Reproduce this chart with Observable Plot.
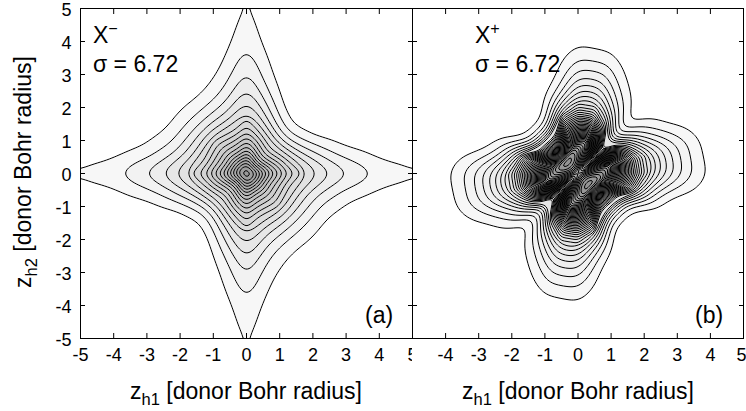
<!DOCTYPE html>
<html><head><meta charset="utf-8">
<script src="https://cdn.jsdelivr.net/npm/d3@7"></script>
<script src="https://cdn.jsdelivr.net/npm/@observablehq/plot@0.6"></script>
<style>
body{margin:0;background:#fff;}
#wrap{position:relative;width:746px;height:411px;overflow:hidden;font-family:"Liberation Sans",Arial,sans-serif;}
#wrap svg{position:absolute;top:0;overflow:visible;}
</style></head><body><div id="wrap"></div>
<script>
// Field samples on polar rays (degrees) inside the wedge -45..45; the plot is mirrored
// by (x,y)->(y,x) and (x,y)->(-x,-y). Values = contour level read along each ray.
const radiiA = [0, 0.25, 0.5, 0.75, 1, 1.25, 1.5, 1.75, 2, 2.5, 3, 3.5, 4, 4.5, 5, 5.5, 6.5, 7.5];
const anglesA = [-45, -30, -20, -10, 0, 10, 20, 30, 45];
const aM45 = [21, 17.9, 14.3, 11.4, 9.45, 7.9, 6.21, 4.46, 3.16, 1.48, 0.55, 0.05, 0, 0, 0, 0, 0, 0];
const aM30 = [21, 17.8, 14.1, 11.2, 9.3, 7.55, 5.9, 4.5, 3.38, 1.53, 0.52, 0.05, 0, 0, 0, 0, 0, 0];
const aM20 = [21, 17.8, 14.2, 11.3, 9.4, 7.54, 5.98, 4.67, 3.61, 1.92, 1.0, 0.21, 0, 0, 0, 0, 0, 0];
const aM10 = [21, 18.1, 14.75, 11.9, 9.92, 8.05, 6.62, 5.43, 4.42, 2.9, 1.78, 1.12, 0.55, 0.15, 0.01, 0, 0, 0];
const aP00 = [21, 18.6, 15.6, 12.9, 10.8, 9.0, 7.7, 6.65, 5.8, 4.4, 3.4, 2.6, 1.93, 1.57, 1.25, 0.95, 0.45, 0.15];
const aP10 = [21, 18.1, 14.7, 11.9, 9.9, 8.0, 6.6, 5.4, 4.4, 2.85, 1.74, 1.08, 0.5, 0.12, 0, 0, 0, 0];
const aP20 = [21, 17.6, 13.85, 10.85, 9.0, 7.1, 5.5, 4.15, 3.1, 1.54, 0.56, 0.03, 0, 0, 0, 0, 0, 0];
const aP30 = [21, 17.1, 12.9, 10.1, 8.1, 6.2, 4.4, 2.96, 1.81, 0.35, 0, 0, 0, 0, 0, 0, 0, 0];
const aP45 = [21, 16.6, 12.2, 9.4, 7.35, 5.5, 3.6, 1.86, 0.9, 0, 0, 0, 0, 0, 0, 0, 0, 0];

const radiiB = [0, 0.125, 0.25, 0.375, 0.5, 0.625, 0.75, 0.875, 1, 1.25, 1.5, 1.75, 2, 2.25, 2.5, 2.75, 3, 3.25, 3.5, 3.75, 4, 4.5, 5, 6, 7.5];
const anglesB = [-45, -30, -15, 0, 15, 30, 45];
const bM45 = [31.5, 35.5, 38.5, 40.3, 41, 38.2, 32.2, 25.3, 19.2, 10, 5.4, 1.8, 0.4, 0.15, 0.05, 0, 0, 0, 0, 0, 0, 0, 0, 0, 0];
const bM30 = [31.5, 35.4, 38.3, 40.1, 40.8, 39.6, 33.9, 27.3, 21.2, 11.7, 5.9, 2.7, 1.0, 0.4, 0.15, 0.05, 0, 0, 0, 0, 0, 0, 0, 0, 0];
const bM15 = [31.5, 35, 37.6, 39.2, 39.9, 39.9, 38.2, 34.5, 30, 22.1, 15.4, 10.5, 6.5, 4, 2.2, 1.2, 0.6, 0.3, 0.12, 0.05, 0, 0, 0, 0, 0];
const bP00 = [31.5, 34, 35.8, 37, 37.8, 38.1, 37.8, 36, 32.4, 25, 18.8, 13.8, 10, 7.8, 6.1, 4.75, 3.6, 2.7, 1.9, 1.25, 0.7, 0.2, 0.05, 0, 0];
const bP15 = [31.5, 32.5, 33, 33.5, 34, 34.5, 35, 35.2, 34.6, 26.7, 19.2, 13.4, 9.8, 7.7, 6, 4.65, 3.5, 2.6, 1.8, 1.1, 0.55, 0.15, 0.03, 0, 0];
const bP30 = [31.5, 31.6, 31.1, 30.4, 29.6, 28.2, 27, 24.4, 21.8, 16.4, 11.6, 8, 5.4, 3.7, 2.5, 1.65, 1.0, 0.55, 0.25, 0.1, 0.04, 0, 0, 0, 0];
const bP45 = [31.5, 30, 27.5, 24.5, 21, 17.5, 14, 11, 8.5, 5, 2.8, 1.3, 0.6, 0.3, 0.15, 0.06, 0, 0, 0, 0, 0, 0, 0, 0, 0];

const outerA = d3.range(1, 7), innerA = d3.range(7, 21);
const outerB = d3.range(1, 9), innerB = d3.range(9, 41);
const tickVals = [-5, -4, -3, -2, -1, 0, 1, 2, 3, 4, 5];
const tickLabelsB = [-4, -3, -2, -1, 0, 1, 2, 3, 4];
const lastLabelB = [5];

function buildPoints(radii, angles, profiles) {
  const pts = [{x: 0, y: 0, v: profiles[0][0]}];
  const seen = new Set();
  angles.forEach((t, i) => {
    for (const a of [t, 90 - t, t + 180, 270 - t]) {
      const key = ((a % 360) + 360) % 360;
      if (seen.has(key)) continue;
      seen.add(key);
      const rad = key * Math.PI / 180;
      radii.forEach((r, j) => {
        if (r > 0) pts.push({x: r * Math.cos(rad), y: r * Math.sin(rad), v: profiles[i][j]});
      });
    }
  });
  return pts;
}
const ptsA = buildPoints(radiiA, anglesA, [aM45, aM30, aM20, aM10, aP00, aP10, aP20, aP30, aP45]);
const ptsB = buildPoints(radiiB, anglesB, [bM45, bM30, bM15, bP00, bP15, bP30, bP45]);

const FONT = "'Liberation Sans', Arial, sans-serif";
const NARROW = "'Liberation Sans Narrow', 'Liberation Sans', Arial, sans-serif";

function panel(pts, outer, inner, opts) {
  const cOpts = {x: "x", y: "y", fill: "v", interpolate: "barycentric", pixelSize: 1, stroke: "black", strokeWidth: 1};
  return Plot.plot({
    width: opts.width, height: 411,
    marginLeft: opts.ml, marginRight: opts.mr, marginTop: 8, marginBottom: 73,
    x: {domain: [-5, 5]}, y: {domain: [-5, 5]},
    color: {type: "linear", domain: [1, inner[inner.length - 1]], range: ["#f7f7f7", "#949494"]},
    style: {fontFamily: NARROW, fontSize: "18px", background: "white", overflow: "visible"},
    marks: [
      Plot.contour(pts, {...cOpts, thresholds: outer, blur: opts.blurOuter}),
      Plot.contour(pts, {...cOpts, thresholds: inner, blur: opts.blurInner}),
      Plot.frame({stroke: "black", strokeWidth: 1}),
      Plot.axisX(tickVals, {anchor: "bottom", tickSize: -5, fill: "none", label: null}),
      Plot.axisX(tickVals, {anchor: "top", tickSize: -5, fill: "none", label: null}),
      Plot.axisY(tickVals, {anchor: "left", tickSize: -5, fill: "none", label: null}),
      Plot.axisY(tickVals, {anchor: "right", tickSize: -5, fill: "none", label: null}),
      ...opts.extra
    ]
  });
}

const fmt = d => String(d);
const svgA = panel(ptsA, outerA, innerA, {width: 412, ml: 80, mr: 0, blurOuter: 7, blurInner: 3, extra: [
  Plot.axisX(tickVals, {anchor: "bottom", tickSize: 0, tickPadding: 10, label: null, tickFormat: fmt}),
  Plot.axisY(tickVals, {anchor: "left", tickSize: 0, tickPadding: 9, label: null, tickFormat: fmt, dy: 2})
]});
const svgB = panel(ptsB, outerB, innerB, {width: 334, ml: 0, mr: 3, blurOuter: 6, blurInner: 2, extra: [
  Plot.axisX(tickLabelsB, {anchor: "bottom", tickSize: 0, tickPadding: 10, label: null, tickFormat: fmt}),
  Plot.axisX(lastLabelB, {anchor: "bottom", tickSize: 0, tickPadding: 10, label: null, tickFormat: fmt, textAnchor: "end", dx: 3})
]});
const wrap = document.getElementById("wrap");
svgA.style.left = "0px";
svgB.style.left = "412px";
wrap.appendChild(svgA);
wrap.appendChild(svgB);

function sup(svg, x, y, base, supText, size) {
  const t = d3.select(svg).append("text").attr("x", x).attr("y", y).attr("text-anchor", "start")
    .attr("font-family", FONT).attr("font-size", size).attr("fill", "black");
  t.append("tspan").text(base);
  t.append("tspan").attr("font-size", size * 0.7).attr("dy", -size * 0.38).text(supText);
}
function plain(svg, x, y, text, size) {
  d3.select(svg).append("text").attr("x", x).attr("y", y).attr("text-anchor", "start")
    .attr("font-family", FONT).attr("font-size", size).attr("fill", "black").text(text);
}
function axisTitle(svg, x, y, size, rotate, sub) {
  const t = d3.select(svg).append("text").attr("font-family", NARROW).attr("font-size", size)
    .attr("text-anchor", "middle").attr("fill", "black");
  if (rotate) t.attr("transform", `translate(${x},${y}) rotate(-90)`);
  else t.attr("x", x).attr("y", y);
  t.append("tspan").text("z");
  t.append("tspan").attr("font-size", size * 0.72).attr("dy", size * 0.25).text(sub);
  t.append("tspan").attr("dy", -size * 0.25).text(" [donor Bohr radius]");
}

sup(svgA, 93, 43, "X", "\u2212", 23);
plain(svgA, 93, 72, "\u03c3 = 6.72", 23);
plain(svgA, 365, 323, "(a)", 23);
sup(svgB, 63, 43, "X", "+", 23);
plain(svgB, 63, 72, "\u03c3 = 6.72", 23);
plain(svgB, 283, 323, "(b)", 23);
axisTitle(svgA, 246, 399, 23, false, "h1");
axisTitle(svgB, 166, 399, 23, false, "h1");
axisTitle(svgA, 31, 172, 23, true, "h2");
</script></body></html>
